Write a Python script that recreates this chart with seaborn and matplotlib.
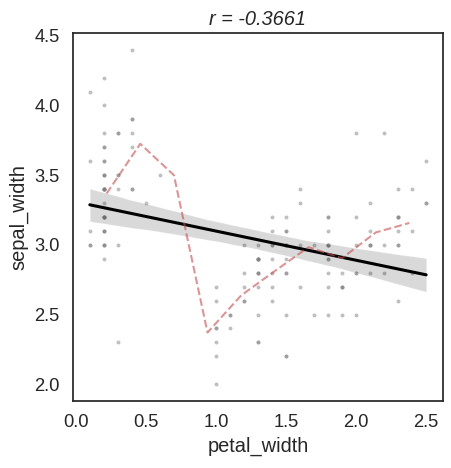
import pandas as pd
import numpy as np
import matplotlib
matplotlib.use("Agg")
import matplotlib.pyplot as plt
import seaborn as sns

# iris: petal_width and sepal_width, rows 1-150
petal_width = [
    0.2, 0.2, 0.2, 0.2, 0.2, 0.4, 0.3, 0.2, 0.2, 0.1,
    0.2, 0.2, 0.1, 0.1, 0.2, 0.4, 0.4, 0.3, 0.3, 0.3,
    0.2, 0.4, 0.2, 0.5, 0.2, 0.2, 0.4, 0.2, 0.2, 0.2,
    0.2, 0.4, 0.1, 0.2, 0.2, 0.2, 0.2, 0.1, 0.2, 0.2,
    0.3, 0.3, 0.2, 0.6, 0.4, 0.3, 0.2, 0.2, 0.2, 0.2,
    1.4, 1.5, 1.5, 1.3, 1.5, 1.3, 1.6, 1.0, 1.3, 1.4,
    1.0, 1.5, 1.0, 1.4, 1.3, 1.4, 1.5, 1.0, 1.5, 1.1,
    1.8, 1.3, 1.5, 1.2, 1.3, 1.4, 1.4, 1.7, 1.5, 1.0,
    1.1, 1.0, 1.2, 1.6, 1.5, 1.6, 1.5, 1.3, 1.3, 1.3,
    1.2, 1.4, 1.2, 1.0, 1.3, 1.2, 1.3, 1.3, 1.1, 1.3,
    2.5, 1.9, 2.1, 1.8, 2.2, 2.1, 1.7, 1.8, 1.8, 2.5,
    2.0, 1.9, 2.1, 2.0, 2.4, 2.3, 1.8, 2.2, 2.3, 1.5,
    2.3, 2.0, 2.0, 1.8, 2.1, 1.8, 1.8, 1.8, 2.1, 1.6,
    1.9, 2.0, 2.2, 1.5, 1.4, 2.3, 2.4, 1.8, 1.8, 2.1,
    2.4, 2.3, 1.9, 2.3, 2.5, 2.3, 1.9, 2.0, 2.3, 1.8,
]
sepal_width = [
    3.5, 3.0, 3.2, 3.1, 3.6, 3.9, 3.4, 3.4, 2.9, 3.1,
    3.7, 3.4, 3.0, 3.0, 4.0, 4.4, 3.9, 3.5, 3.8, 3.8,
    3.4, 3.7, 3.6, 3.3, 3.4, 3.0, 3.4, 3.5, 3.4, 3.2,
    3.1, 3.4, 4.1, 4.2, 3.1, 3.2, 3.5, 3.6, 3.0, 3.4,
    3.5, 2.3, 3.2, 3.5, 3.8, 3.0, 3.8, 3.2, 3.7, 3.3,
    3.2, 3.2, 3.1, 2.3, 2.8, 2.8, 3.3, 2.4, 2.9, 2.7,
    2.0, 3.0, 2.2, 2.9, 2.9, 3.1, 3.0, 2.7, 2.2, 2.5,
    3.2, 2.8, 2.5, 2.8, 2.9, 3.0, 2.8, 3.0, 2.9, 2.6,
    2.4, 2.4, 2.7, 2.7, 3.0, 3.4, 3.1, 2.3, 3.0, 2.5,
    2.6, 3.0, 2.6, 2.3, 2.7, 3.0, 2.9, 2.9, 2.5, 2.8,
    3.3, 2.7, 3.0, 2.9, 3.0, 3.0, 2.5, 2.9, 2.5, 3.6,
    3.2, 2.7, 3.0, 2.5, 2.8, 3.2, 3.0, 3.8, 2.6, 2.2,
    3.2, 2.8, 2.8, 2.7, 3.3, 3.2, 2.8, 3.0, 2.8, 3.0,
    2.8, 3.8, 2.8, 2.8, 2.6, 3.0, 3.4, 3.1, 3.0, 3.1,
    3.1, 3.1, 2.7, 3.2, 3.3, 3.0, 2.5, 3.0, 3.4, 3.0,
]

df = pd.DataFrame({"petal_width": petal_width, "sepal_width": sepal_width})
r = df["petal_width"].corr(df["sepal_width"])

# binned means: 10 equal-width, left-closed bins, plotted at bin centres
edges = np.round(np.linspace(df["petal_width"].min(), df["petal_width"].max(), 11), 6)
df["bin"] = np.digitize(df["petal_width"], edges[1:-1])
binned = df.groupby("bin")["sepal_width"].mean().reset_index()
centers = (edges[:-1] + edges[1:]) / 2
binned["center"] = centers[binned["bin"]]

sns.set_theme(style="white", font_scale=1.2)
plt.rcParams["font.family"] = ["Liberation Sans", "DejaVu Sans"]

fig, ax = plt.subplots(figsize=(4.52, 4.68), dpi=100)
fig.subplots_adjust(left=0.1615, right=0.980, top=0.9295, bottom=0.1432)

sns.regplot(data=df, x="petal_width", y="sepal_width", ax=ax,
            scatter_kws={"color": "gray", "alpha": 0.5, "s": 8, "linewidths": 0},
            line_kws={"color": "black", "lw": 2.2})
sns.lineplot(data=binned, x="center", y="sepal_width", ax=ax,
             color="#c44e52", alpha=0.6, linestyle="--", lw=1.5)

ax.set_xlabel("petal_width")
ax.set_ylabel("sepal_width")
ax.set_title(f"r = {r:.4f}", fontstyle="italic")
ax.set_xticks([0.0, 0.5, 1.0, 1.5, 2.0, 2.5])
ax.set_yticks([2.0, 2.5, 3.0, 3.5, 4.0, 4.5])

fig.savefig("out.png", dpi=100)
